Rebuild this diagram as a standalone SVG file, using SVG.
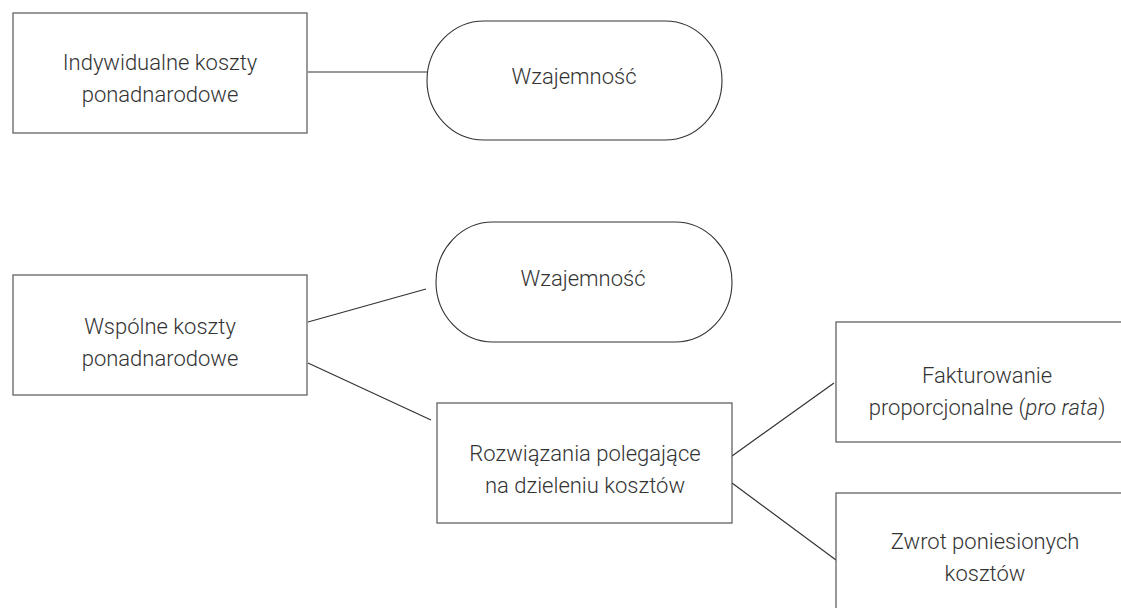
<svg xmlns="http://www.w3.org/2000/svg" width="1121" height="608" viewBox="0 0 1121 608">
<style>
.box{fill:#fff;stroke:#555;stroke-width:1.2}
.oval{fill:#fff;stroke:#333;stroke-width:1.1}
.con{stroke:#333;stroke-width:1.2;fill:none}
text{font-family:Roboto,"Liberation Sans",sans-serif;font-weight:300;font-size:22px;fill:#333;text-anchor:middle}
</style>
<rect width="1121" height="608" fill="#fff"/>
<g id="connectors">
<line class="con" x1="308" y1="72" x2="428" y2="72"/>
<line class="con" x1="308" y1="322" x2="426" y2="289"/>
<line class="con" x1="308" y1="363" x2="431" y2="420"/>
<line class="con" x1="732" y1="456" x2="834" y2="383"/>
<line class="con" x1="732" y1="483" x2="836" y2="560"/>
</g>
<g id="n1">
<rect class="box" x="13" y="13" width="294" height="120"/>
<text x="160" y="70">Indywidualne koszty</text>
<text x="160" y="102">ponadnarodowe</text>
</g>
<g id="n2">
<rect class="oval" x="427" y="21" width="295" height="119" rx="57" ry="59.5"/>
<text x="574" y="84">Wzajemność</text>
</g>
<g id="n3">
<rect class="box" x="13" y="275" width="294" height="120"/>
<text x="160" y="334">Wspólne koszty</text>
<text x="160" y="366">ponadnarodowe</text>
</g>
<g id="n4">
<rect class="oval" x="436" y="222" width="296" height="120" rx="57" ry="60"/>
<text x="583" y="286">Wzajemność</text>
</g>
<g id="n5">
<rect class="box" x="437" y="403" width="295" height="120"/>
<text x="585" y="461">Rozwiązania polegające</text>
<text x="585" y="493">na dzieleniu kosztów</text>
</g>
<g id="n6">
<rect class="box" x="836" y="322" width="302" height="120"/>
<text x="987" y="383">Fakturowanie</text>
<text x="987" y="415">proporcjonalne (<tspan font-style="italic">pro rata</tspan>)</text>
</g>
<g id="n7">
<rect class="box" x="836" y="493" width="302" height="120"/>
<text x="985" y="549">Zwrot poniesionych</text>
<text x="985" y="581">kosztów</text>
</g>
</svg>
